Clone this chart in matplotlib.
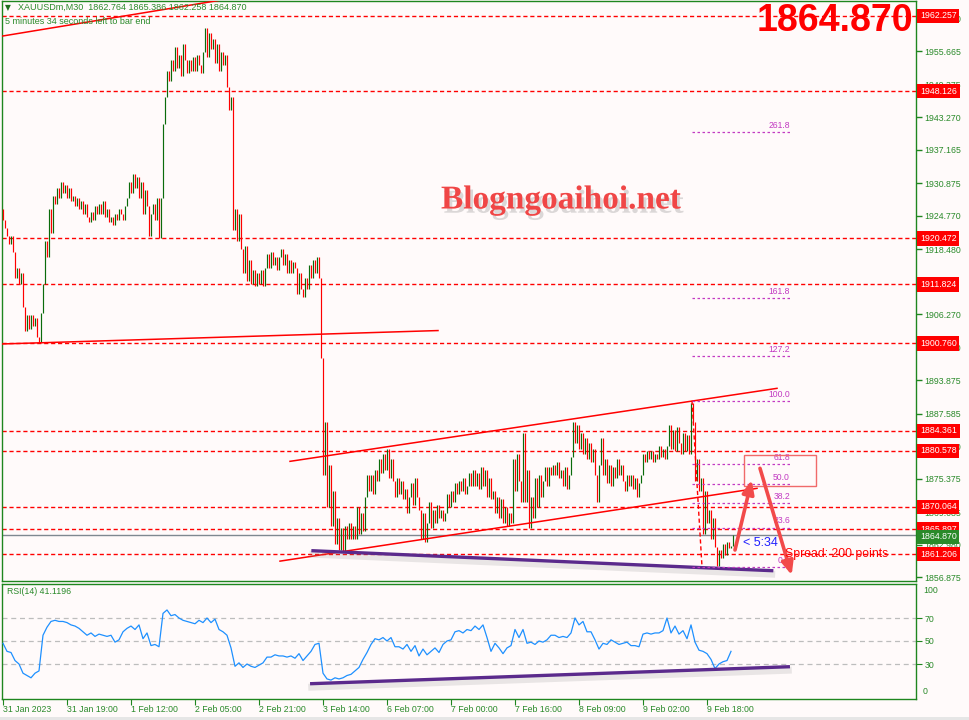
import numpy as np
import matplotlib
matplotlib.use('Agg')
import matplotlib.pyplot as plt
import matplotlib.patheffects as pe
from matplotlib.patches import Rectangle
from matplotlib.transforms import blended_transform_factory

plt.rcParams['font.family'] = ['Liberation Sans', 'DejaVu Sans']

# XAUUSDm M30 closes, one per bar (open of a bar = previous close)
first_open = 1926.0
closes = [
    1924, 1922.5, 1921, 1919.5, 1921, 1918, 1913, 1915, 1912, 1914,
    1907.5, 1903, 1906, 1903.5, 1906, 1904, 1905.5, 1902, 1901, 1906.5,
    1912, 1920, 1917, 1926, 1921.5, 1928.5, 1927, 1930, 1928, 1931,
    1929, 1930.5, 1928, 1930, 1927.5, 1928.5, 1926.5, 1928, 1926, 1927.5,
    1925, 1927, 1924.5, 1923.5, 1925.5, 1924, 1926.5, 1925, 1927, 1925,
    1927.5, 1924.5, 1926, 1923.5, 1924.5, 1923, 1925, 1924, 1926, 1925,
    1924, 1926.5, 1928, 1931, 1929, 1932.5, 1930, 1932, 1928, 1931,
    1925, 1929.5, 1926.5, 1921, 1925, 1927, 1924, 1928, 1920.5, 1928,
    1942, 1947, 1952, 1950, 1954, 1952, 1956.5, 1952.5, 1955, 1951,
    1957, 1954, 1951.5, 1954, 1952, 1954.5, 1952, 1955, 1953, 1951.5,
    1955.5, 1960, 1954.5, 1959, 1956, 1958, 1953.5, 1957, 1952, 1955.5,
    1953, 1955, 1949, 1944.5, 1947, 1922, 1926, 1920, 1925, 1918.5,
    1914, 1919, 1912.5, 1916.5, 1912, 1914.5, 1911.5, 1914, 1912, 1914.5,
    1911.5, 1915, 1917.5, 1915, 1918, 1915.5, 1917, 1914.5, 1917, 1918.5,
    1915.5, 1917.5, 1914, 1916.5, 1914, 1916, 1915, 1910, 1914, 1911,
    1909.5, 1913, 1911, 1915.5, 1913, 1916.5, 1914, 1917, 1913, 1898,
    1876, 1886, 1870, 1878, 1866.5, 1873, 1863, 1868, 1862, 1866,
    1861.5, 1866.5, 1864, 1867, 1864, 1866.5, 1864, 1870, 1865, 1869,
    1865.5, 1872, 1876, 1873, 1876, 1872.5, 1877, 1875, 1879, 1876.5,
    1880, 1877, 1881, 1875.5, 1879, 1875, 1872, 1875.5, 1872.5, 1875,
    1871.5, 1873.5, 1869, 1872, 1874.5, 1870.5, 1875.5, 1872, 1869.5, 1864,
    1869, 1863.5, 1867, 1871, 1866, 1869.5, 1867, 1870.5, 1868, 1869.5,
    1867.5, 1869, 1872.5, 1870, 1873, 1871, 1874.5, 1872.5, 1875, 1873,
    1875.5, 1872.5, 1874, 1876.5, 1874, 1877, 1874, 1876.5, 1873.5, 1877.5,
    1874, 1877, 1872, 1875.5, 1871.5, 1873, 1869, 1872, 1868, 1871.5,
    1867, 1870, 1866.5, 1869, 1867, 1879, 1873, 1880, 1875, 1871,
    1884, 1871, 1877, 1866, 1872, 1868, 1875.5, 1870, 1876, 1872,
    1875, 1877.5, 1874, 1877.5, 1876, 1878, 1876, 1878.5, 1875.5, 1877,
    1874, 1877.5, 1873.5, 1876, 1879.5, 1886, 1882, 1885.5, 1881, 1884,
    1880, 1883, 1879, 1882, 1878.5, 1881, 1876, 1871, 1878, 1883,
    1876, 1879, 1874.5, 1878, 1874, 1877.5, 1875.5, 1879, 1876, 1878,
    1875, 1873, 1876, 1874, 1876, 1873.5, 1875.5, 1872, 1874.5, 1876,
    1880, 1878.5, 1880.5, 1879, 1880.5, 1878.5, 1880, 1879, 1881.5, 1879.5,
    1881, 1879, 1881.5, 1885.5, 1881, 1884.5, 1880.5, 1885, 1882, 1880,
    1884, 1880.5, 1883.5, 1880, 1889.5, 1886, 1875, 1879, 1873, 1875.5,
    1865, 1873, 1867, 1869.5, 1864, 1868, 1862.5, 1859, 1862, 1860.5,
    1863, 1861, 1863.5, 1862.3, 1862.8, 1864.87,
]

# RSI(14), read every second bar
rsi = [
    48, 41, 40, 33, 30, 22, 20, 18, 22, 24,
    55, 62, 67, 68, 67, 67, 66, 64, 63, 61,
    58, 55, 57, 54, 56, 55, 54, 55, 49, 51,
    58, 61, 63, 60, 64, 52, 57, 46, 47, 45,
    74, 77, 72, 73, 70, 68, 67, 66, 65, 68,
    66, 70, 66, 69, 60, 58, 55, 44, 28, 31,
    27, 30, 28, 27, 29, 31, 36, 36, 38, 37,
    37, 36, 37, 35, 39, 33, 37, 41, 47, 48,
    22, 17, 16, 18, 17, 18, 20, 21, 24, 27,
    34, 40, 47, 52, 51, 53, 50, 53, 45, 45,
    43, 47, 41, 46, 37, 43, 38, 41, 44, 40,
    47, 50, 51, 58, 59, 57, 60, 59, 63, 60,
    64, 53, 41, 48, 44, 39, 44, 46, 60, 53,
    60, 48, 49, 47, 50, 49, 51, 55, 55, 53,
    54, 53, 57, 70, 64, 67, 58, 58, 51, 43,
    48, 47, 51, 49, 47, 48, 49, 46, 46, 45,
    56, 57, 56, 57, 57, 59, 70, 57, 63, 56,
    59, 52, 64, 49, 42, 41, 39, 34, 26, 30,
    32, 33, 41,
]

time_labels = ['31 Jan 2023', '31 Jan 19:00', '1 Feb 12:00', '2 Feb 05:00',
               '2 Feb 21:00', '3 Feb 14:00', '6 Feb 07:00', '7 Feb 00:00',
               '7 Feb 16:00', '8 Feb 09:00', '9 Feb 02:00', '9 Feb 18:00']
time_label_bars = [0, 32, 64, 96, 128, 160, 192, 224, 256, 288, 320, 352]

# scale labels (1912.375 sits fully under the 1911.824 box, so left out)
price_ticks = [1961.770, 1955.665, 1949.375, 1943.270, 1937.165, 1930.875,
               1924.770, 1918.480, 1906.270, 1899.980, 1893.875,
               1887.585, 1881.480, 1875.375, 1869.085, 1862.980, 1856.875]
levels = [1962.257, 1948.126, 1920.472, 1911.824, 1900.760,
          1884.361, 1880.578, 1870.064, 1865.897, 1861.206]
last_price = 1864.870

fib_low, fib_high = 1858.82, 1889.99
fib_ratios = [0.0, 23.6, 38.2, 50.0, 61.8, 100.0, 127.2, 161.8, 261.8]

# trend lines: (bar, price) end points
red_lines = [((-1, 1958.43), (115, 1965.6)),
             ((-1.5, 1900.64), (217.5, 1903.17)),
             ((143.5, 1878.61), (387, 1892.32)),
             ((138.5, 1859.87), (377, 1873.54))]
purple_line = ((155, 1861.82), (384.35, 1858.08))
rsi_line = ((154.35, 12.9), (392.65, 27.6))
arrows = [((366, 1861.96), (374.35, 1875.1)),
          ((378.5, 1877.3), (394.35, 1857.26))]

bg = '#fffafa'
fg = '#2a8a2a'
frame = '#1f861f'
up_col = '#0b6b0b'
dn_col = '#ff0000'
fib_col = '#c23ac2'

W, H = 969, 720
fig = plt.figure(figsize=(W / 100, H / 100), dpi=100, facecolor=bg)


def box(x0, y0, x1, y1):
    return [x0 / W, 1 - y1 / H, (x1 - x0) / W, (y1 - y0) / H]


ax = fig.add_axes(box(2, 0.5, 916, 581), facecolor=bg)
ax2 = fig.add_axes(box(2, 583.5, 916, 698.5), facecolor=bg)

for a in (ax, ax2):
    a.set_xlim(-0.5, 456.5)
    for s in a.spines.values():
        s.set_color(frame)
        s.set_linewidth(1)
ax.set_ylim(1856.14, 1965.15)
ax2.set_ylim(0, 100)

# price bars
closes = np.array(closes)
opens = np.r_[first_open, closes[:-1]]
idx = np.arange(len(closes))
cols = np.where(closes >= opens, up_col, dn_col)
ax.vlines(idx, np.minimum(opens, closes), np.maximum(opens, closes),
          colors=cols, lw=0.85, zorder=3)

# horizontal levels
for lv in levels:
    ax.axhline(lv, color='red', lw=1, ls=(0, (3, 2)), zorder=2)
ax.axhline(last_price, color='#7f8890', lw=1, zorder=2)

# trend lines
for (x0, y0), (x1, y1) in red_lines:
    ax.plot([x0, x1], [y0, y1], color='red', lw=1.1, zorder=4)
shadow = [pe.SimpleLineShadow(offset=(0, -2.5), shadow_color='#888888', alpha=0.18, linewidth=5),
          pe.Normal()]
ax.plot(*zip(*purple_line), color='#5b2a8c', lw=2.4, zorder=4, path_effects=shadow)

# fibonacci levels
ax.plot([344.5, 349.5], [fib_high, fib_low], color='red', lw=1, ls=(0, (3, 2)), zorder=4)
for r in fib_ratios:
    p = fib_low + (fib_high - fib_low) * r / 100
    ax.plot([344.5, 393.5], [p, p], color=fib_col, lw=0.9, ls=(0, (2, 2)), zorder=4)
    ax.annotate(f'{r:.1f}', (393.5, p), xytext=(0, 1.5), textcoords='offset points',
                ha='right', va='bottom', fontsize=6.2, color=fib_col, zorder=5)

# box and arrows
ax.add_patch(Rectangle((370.65, 1874.03), 35.7, 5.71, fill=False, ec='#f06a6a', lw=1, zorder=5))
for tail, head in arrows:
    ax.annotate('', xy=head, xytext=tail, zorder=6,
                arrowprops=dict(arrowstyle='-|>,head_length=0.8,head_width=0.35',
                                color='#f24a4a', lw=2.6, shrinkA=0, shrinkB=0))

ax.text(370, 1863.3, '< 5:34', color='#2020ff', fontsize=9, va='center', ha='left', zorder=6)
ax.text(391, 1861.2, 'Spread: 200 points', color='red', fontsize=8.8, va='center', ha='left', zorder=6)

# right price scale
ax.yaxis.tick_right()
ax.set_yticks(price_ticks)
ax.set_yticklabels([f'{t:.3f}' for t in price_ticks])
ax.tick_params(axis='y', colors=fg, labelsize=6.3, length=4, pad=2, width=1)
ax.tick_params(axis='y', color=frame)
ax.set_xticks([])

trans = blended_transform_factory(ax.transAxes, ax.transData)
for lv in levels:
    ax.text(1.0045, lv, f'{lv:.3f}', transform=trans, color='white', fontsize=6.3,
            va='center', ha='left', clip_on=False, zorder=10,
            bbox=dict(boxstyle='square,pad=0.3', fc='red', ec='none'))
# the live price box is nudged down a little so it sits under the 1865.897 box
ax.annotate(f'{last_price:.3f}', (1.0045, last_price), xycoords=trans,
            xytext=(0, -1.6), textcoords='offset points', color='white', fontsize=6.3,
            va='center', ha='left', annotation_clip=False, zorder=11,
            bbox=dict(boxstyle='square,pad=0.3', fc='#2a8a2a', ec='none'))

# RSI panel
ax2.plot(idx[::2][:len(rsi)], rsi, color='#1e90ff', lw=0.9, zorder=3)
for lv in (70, 50, 30):
    ax2.axhline(lv, color='#bdbdbd', lw=0.9, ls=(0, (4, 3)), zorder=1)
ax2.plot(*zip(*rsi_line), color='#5b2a8c', lw=2.4, zorder=4, path_effects=shadow)
ax2.yaxis.tick_right()
ax2.set_yticks([70, 50, 30])
ax2.set_yticklabels(['70', '50', '30'])
ax2.tick_params(axis='y', colors=fg, labelsize=6.3, length=4, pad=2)
ax2.tick_params(axis='y', color=frame)
trans2 = blended_transform_factory(ax2.transAxes, ax2.transData)
ax2.text(1.0075, 94.3, '100', transform=trans2, color=fg, fontsize=6.3, va='center')
ax2.text(1.0075, 6.5, '0', transform=trans2, color=fg, fontsize=6.3, va='center')
ax2.text(0.006, 93, 'RSI(14) 41.1196', transform=trans2, color=fg, fontsize=6.3, va='center')

ax2.set_xticks(time_label_bars)
ax2.set_xticklabels(time_labels, ha='left')
ax2.tick_params(axis='x', colors=fg, labelsize=6.3, length=4, pad=1)
ax2.tick_params(axis='x', color=frame)

# header texts
fig.text(5 / W, 1 - 7.5 / H, '\u25bc', color='#1f6f1f', fontsize=5.5, va='center',
         family=['DejaVu Sans'])
fig.text(18 / W, 1 - 7.5 / H, 'XAUUSDm,M30  1862.764 1865.386 1862.258 1864.870',
         color=fg, fontsize=6.5, va='center')
fig.text(5 / W, 1 - 22 / H, '5 minutes 34 seconds left to bar end',
         color=fg, fontsize=6.5, va='center')

fig.text(913 / W, 1 - 21 / H, '1864.870', color='red', fontsize=27, weight='bold',
         ha='right', va='center')

fig.text(561 / W, 1 - 200 / H, 'Blogngoaihoi.net', color='#f04646', fontsize=24,
         family=['Liberation Serif'], weight='bold', ha='center', va='center',
         path_effects=[pe.SimplePatchShadow(offset=(2, -3), shadow_rgbFace='#888888', alpha=0.3),
                       pe.Normal()])

fig.patches.append(Rectangle((0, 0), 1, 3 / H, transform=fig.transFigure,
                             fc='#e6e6e6', ec='none'))

fig.savefig('out.png', dpi=100, facecolor=bg)
